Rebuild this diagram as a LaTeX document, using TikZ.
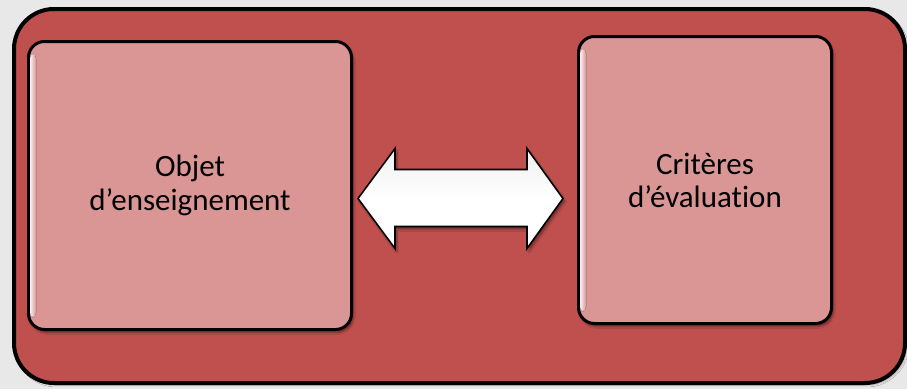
\documentclass[tikz,border=0pt]{standalone}
\usepackage{fontspec}
\setmainfont[Ligatures=NoCommon]{Carlito}
\usetikzlibrary{shadows.blur,calc}
\definecolor{outerred}{HTML}{C0504D}
\definecolor{pinkbox}{HTML}{D99694}
\definecolor{bgray}{HTML}{E8E8E8}
\tikzset{
  panel/.style={draw=black, line width=4pt, fill=outerred, rounded corners=40pt},
  topic/.style={draw=black, line width=3pt, fill=pinkbox, rounded corners=16pt,
    blur shadow={shadow xshift=2pt, shadow yshift=-3pt, shadow opacity=45, shadow blur steps=6},
    align=center, font=\fontsize{31}{33}\selectfont, text=black},
  gloss/.style={left color=white!85!pinkbox, right color=pinkbox, draw=none},
  arrowshape/.style={draw=black, line width=1.6pt, top color=gray!12, bottom color=white, middle color=white,
    blur shadow={shadow xshift=2pt, shadow yshift=-3pt, shadow opacity=40}}
}
\begin{document}
\begin{tikzpicture}[x=1pt,y=-1pt]
\useasboundingbox (0,0) rectangle (907,389);
\fill[bgray] (0,0) rectangle (907,389);
\node[panel, minimum width=891pt, minimum height=374pt, anchor=north west,
  blur shadow={shadow xshift=2pt, shadow yshift=-2pt, shadow opacity=30}] (panel) at (12,7) {};
% left box
\node[topic, minimum width=323pt, minimum height=288pt, anchor=north west] (L) at (27,40) {};
\fill[gloss, rounded corners=4pt] ($(L.north west)+(3,14)$) rectangle ($(L.south west)+(9,-14)$);
\node[align=center, font=\fontsize{31}{34}\selectfont] (Lt) at (L.center) {Objet\\d’enseignement};
% right box
\node[topic, minimum width=253pt, minimum height=287pt, anchor=north west] (R) at (577,35) {};
\fill[gloss, rounded corners=4pt] ($(R.north west)+(3,14)$) rectangle ($(R.south west)+(9,-14)$);
\node[align=center, font=\fontsize{31}{33}\selectfont] (Rt) at (R.center) {Critères\\d’évaluation};
% double arrow
\coordinate (tipL) at ($(L.east)+(5,13)$);
\coordinate (tipR) at ($(R.west)+(-14,18.5)$);
\path[arrowshape] (tipL) -- ++(37,-50) -- ++(0,21) -- ($(tipR)+(-36,-29)$) -- ++(0,-21)
  -- (tipR) -- ++(-36,50) -- ++(0,-22) -- ($(tipL)+(37,28)$) -- ++(0,22) -- cycle;
\end{tikzpicture}
\end{document}
